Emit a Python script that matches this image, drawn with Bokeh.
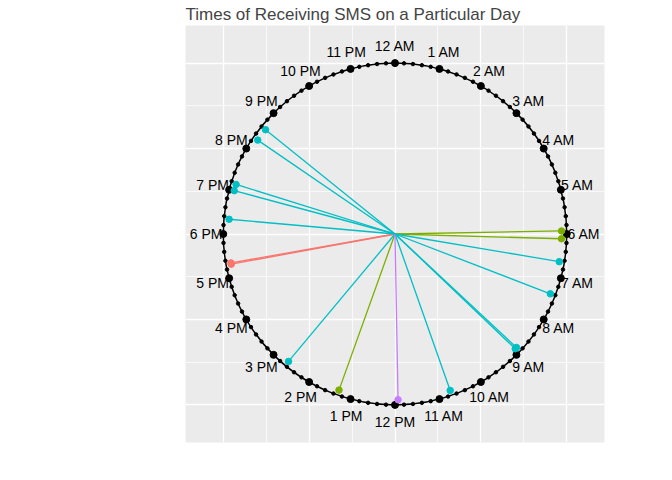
import numpy as np
from bokeh.plotting import figure
from bokeh.models import Legend, LegendItem, FixedTicker, Title
from bokeh.core.properties import value
from bokeh.embed import file_html
from bokeh.resources import INLINE

sms_type = ["Ad", "Ad", "info", "info", "info", "service",
            "offer", "offer", "offer", "offer", "offer", "offer", "offer", "offer", "offer", "offer", "offer"]
sms_hour = [17.30, 17.33, 5.93, 6.11, 13.31, 11.93,
            20.60, 20.30, 19.16, 19.01, 18.34, 6.64, 7.41, 8.88, 8.92, 10.71, 14.65]
types = ["Ad", "info", "offer", "service"]
colors = ["#F8766D", "#7CAE00", "#00BFC4", "#C77CFF"]
hour_labels = ["12 AM"] + [f"{h} AM" for h in range(1, 12)] + ["12 PM"] + [f"{h} PM" for h in range(1, 12)]

FONT = "Liberation Sans"
p = figure(width=656, height=464, output_backend="svg", toolbar_location=None,
           x_range=(-1.22, 1.22), y_range=(-1.22, 1.22),
           min_border_left=185, min_border_right=52, min_border_bottom=22, min_border_top=0)
p.add_layout(Title(text="Times of Receiving SMS on a Particular Day", text_font=FONT,
                   text_font_size="17px", text_font_style="normal", offset=0, standoff=4), "above")
p.axis.visible = False
p.outline_line_color = None
p.background_fill_color = "#EBEBEB"
p.border_fill_color = "white"
for g in (p.xgrid, p.ygrid):
    g.ticker = FixedTicker(ticks=[-1, -0.5, 0, 0.5, 1], minor_ticks=[-0.75, -0.25, 0.25, 0.75])
    g.grid_line_color = "white"
    g.grid_line_width = 1.3
    g.minor_grid_line_color = "white"
    g.minor_grid_line_width = 0.7

def xy(h, r):
    a = np.asarray(h) / 24 * 2 * np.pi
    return r * np.sin(a), r * np.cos(a)

# clock face
p.ellipse(x=0, y=0, width=2, height=2, fill_color=None, line_color="black", line_width=1.5)
mx, my = xy(np.arange(0, 24, 0.2), 1.0)
p.scatter(mx, my, size=3.5, color="black")
hx, hy = xy(np.arange(24), 1.0)
p.scatter(hx, hy, size=7, color="black")
lx, ly = xy(np.arange(24), 1.1)
p.text(lx, ly, text=hour_labels, text_align="center", text_baseline="middle",
       text_font=value(FONT), text_font_size="14px", text_color="black")

items = []
for t, c in zip(types, colors):
    hs = [h for h, s in zip(sms_hour, sms_type) if s == t]
    px, py = xy(hs, 0.97)
    xs = [[0, a] for a in px]
    ys = [[0, b] for b in py]
    r1 = p.multi_line(xs, ys, line_color=c, line_width=1.3)
    r2 = p.scatter(px, py, size=6.5, color=c)
    items.append(LegendItem(label=t, renderers=[r1, r2]))

leg = Legend(items=items, title="Type of SMS", location=(-135, 150),
             title_text_font=FONT, title_text_font_size="14px", title_text_font_style="normal",
             label_text_font=FONT, label_text_font_size="12px",
             background_fill_alpha=0, border_line_color=None,
             glyph_width=23, glyph_height=23, label_height=23, spacing=0, padding=4)
p.add_layout(leg, "center")

open("out.html", "w").write(file_html(p, INLINE))
